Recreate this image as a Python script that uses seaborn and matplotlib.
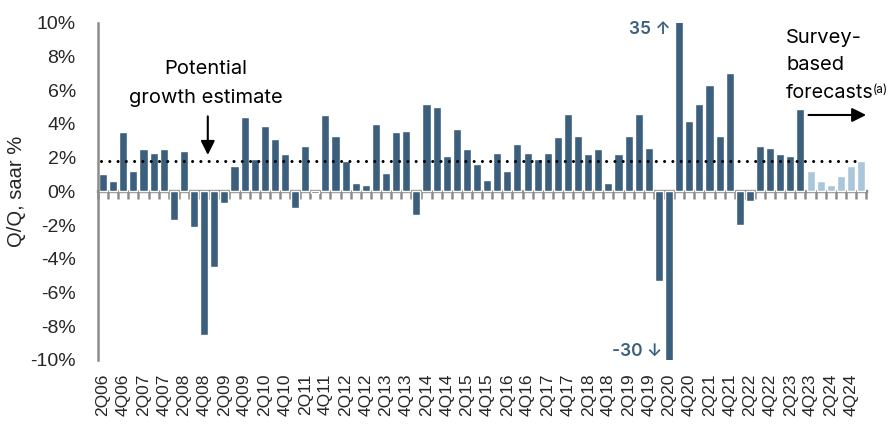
import numpy as np
import pandas as pd
import seaborn as sns
import matplotlib.pyplot as plt

# Real GDP growth, quarter on quarter, seasonally adjusted annual rate (%)
actual_growth = [
    1.0, 0.6, 3.5, 1.2, 2.5, 2.3, 2.5, -1.7, 2.4, -2.1,
    -8.5, -4.5, -0.7, 1.5, 4.4, 1.9, 3.9, 3.1, 2.2, -1.0,
    2.7, -0.1, 4.5, 3.3, 1.8, 0.5, 0.4, 4.0, 1.1, 3.5,
    3.6, -1.4, 5.2, 5.0, 2.1, 3.7, 2.5, 1.6, 0.7, 2.3,
    1.2, 2.8, 2.3, 1.9, 2.3, 3.2, 4.6, 3.3, 2.2, 2.5,
    0.5, 2.2, 3.3, 4.6, 2.6, -5.3, -30.0, 35.0, 4.2, 5.2,
    6.3, 3.3, 7.0, -2.0, -0.6, 2.7, 2.6, 2.2, 2.1, 4.9,
]
forecast_growth = [1.2, 0.6, 0.4, 0.9, 1.5, 1.8]
potential_growth = 1.8

start_year, start_q = 2006, 2
n_periods = len(actual_growth) + len(forecast_growth)
quarters = []
for k in range(n_periods):
    idx = start_q - 1 + k
    quarters.append(f"{idx % 4 + 1}Q{(start_year + idx // 4) % 100:02d}")

y_ticks = [-10, -8, -6, -4, -2, 0, 2, 4, 6, 8, 10]
y_tick_labels = [f"{v}%" for v in y_ticks]

df = pd.DataFrame({
    "quarter": quarters,
    "growth": actual_growth + forecast_growth,
    "kind": ["Actual"] * len(actual_growth) + ["Survey forecast"] * len(forecast_growth),
})

DARK = "#3b5f7d"
LIGHT = "#a9c6da"
GREY = "#8c8c8c"

sns.set_theme(style="white")
plt.rcParams["font.family"] = ["Liberation Sans", "DejaVu Sans"]
ANNOT_FONT = ["Inter", "DejaVu Sans"]

fig, ax = plt.subplots(figsize=(8.92, 4.30), dpi=100)
fig.subplots_adjust(left=0.1099, right=0.971, top=0.947, bottom=0.163)

sns.barplot(
    data=df, x="quarter", y="growth", hue="kind", order=quarters,
    palette={"Actual": DARK, "Survey forecast": LIGHT},
    dodge=False, width=0.8, saturation=1, legend=False, ax=ax, zorder=2,
)

ax.set_xlim(-0.5, n_periods - 0.5)
ax.set_ylim(-10, 10)

# y axis
ax.set_yticks(y_ticks)
ax.set_yticklabels(y_tick_labels, fontsize=14)
ax.tick_params(axis="y", length=7, width=1.5, color=GREY, pad=9)
ax.set_ylabel("Q/Q, saar %", fontsize=14.5, labelpad=3)
for side in ["top", "right", "bottom"]:
    ax.spines[side].set_visible(False)
ax.spines["left"].set_color(GREY)
ax.spines["left"].set_linewidth(1.8)

# x tick labels along the bottom, every other quarter
ax.set_xticks(range(0, n_periods, 2))
ax.set_xticklabels(quarters[::2], rotation=90, fontsize=12.5)
ax.tick_params(axis="x", length=0, pad=10)
ax.set_xlabel("")

# zero line with category boundary ticks
zero_axis = ax.secondary_xaxis(0, transform=ax.transData)
zero_axis.set_xticks(np.arange(-0.5, n_periods, 1.0))
zero_axis.set_xticklabels([])
zero_axis.tick_params(axis="x", length=6, width=1.8, color=GREY)
zero_axis.spines["bottom"].set_color(GREY)
zero_axis.spines["bottom"].set_linewidth(2.4)

# potential growth reference
pot = ax.hlines(potential_growth, -0.2, 74.4, colors="black",
                linestyles=(0, (0.01, 2.7)), linewidth=2.2, zorder=4)
pot.set_capstyle("round")

ax.text(10.2, 7.26, "Potential", ha="center", va="center",
        fontsize=14.5, family=ANNOT_FONT, color="black")
ax.text(10.2, 5.56, "growth estimate", ha="center", va="center",
        fontsize=14.5, family=ANNOT_FONT, color="black")
ax.annotate("", xy=(10.36, 2.16), xytext=(10.36, 4.45),
            arrowprops=dict(arrowstyle="-|>,head_width=0.35,head_length=0.7",
                            color="black", lw=1.5, shrinkA=0, shrinkB=0))

# survey-based forecasts label
ax.text(67.6, 9.12, "Survey-", ha="left", va="center",
        fontsize=14.5, family=ANNOT_FONT, color="black")
ax.text(67.6, 7.48, "based", ha="left", va="center",
        fontsize=14.5, family=ANNOT_FONT, color="black")
fc = ax.text(67.5, 5.86, "forecasts", ha="left", va="center",
             fontsize=14.2, family=ANNOT_FONT, color="black")
ax.annotate("(a)", xy=(1.0, 0.62), xycoords=fc, xytext=(-0.5, 0),
            textcoords="offset points", ha="left", va="center",
            fontsize=8.5, family=ANNOT_FONT, color="black")
ax.annotate("", xy=(75.5, 4.53), xytext=(69.8, 4.53),
            arrowprops=dict(arrowstyle="-|>,head_width=0.35,head_length=0.7",
                            color="black", lw=1.5, shrinkA=0, shrinkB=0),
            annotation_clip=False)

# off-scale values
ax.text(56.2, 9.63, f"{actual_growth[57]:.0f} \u2191", ha="right", va="center",
        fontsize=12.5, fontweight="semibold", family=ANNOT_FONT, color=DARK)
ax.text(55.3, -9.5, f"{actual_growth[56]:.0f} \u2193", ha="right", va="center",
        fontsize=12.5, fontweight="semibold", family=ANNOT_FONT, color=DARK)

fig.savefig("out.png", dpi=100)
